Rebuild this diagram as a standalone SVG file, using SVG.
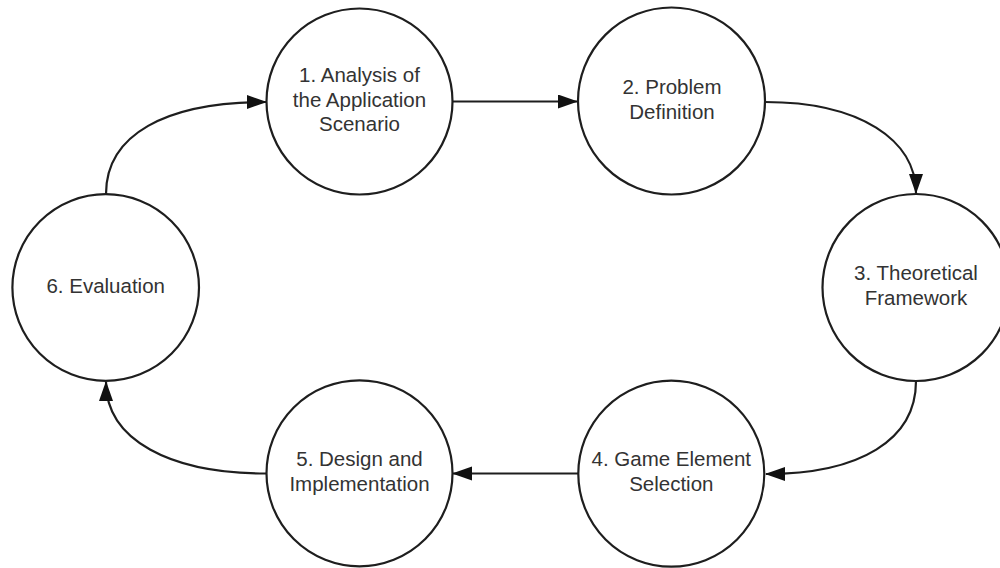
<svg xmlns="http://www.w3.org/2000/svg" width="1000" height="568" viewBox="0 0 1000 568">
  <style>
    .node circle { fill: #ffffff; stroke: #1e1e1e; stroke-width: 2.2; }
    .node text { font-family: "Liberation Sans", Arial, sans-serif; font-size: 20.5px; fill: #333333; text-anchor: middle; }
    .conn { fill: none; stroke: #1e1e1e; stroke-width: 2.2; marker-end: url(#arrow); }
  </style>
  <defs>
    <marker id="arrow" markerUnits="userSpaceOnUse" markerWidth="22" markerHeight="16" refX="19" refY="7" orient="auto">
      <path d="M0,0 L20,7 L0,14 z" fill="#111111"/>
    </marker>
  </defs>
  <rect x="0" y="0" width="1000" height="568" fill="#ffffff"/>

  <g id="connectors">
    <path class="conn" d="M452,101.5 L577,101.5"/>
    <path class="conn" d="M765,102 C860,102 916,140 916,193"/>
    <path class="conn" d="M916,381 C916,440 860,474 766,474"/>
    <path class="conn" d="M578,473.5 L453,473.5"/>
    <path class="conn" d="M266,473.5 C170,473.5 106,440 106,382"/>
    <path class="conn" d="M106,194 C106,135 165,102 266,102"/>
  </g>

  <g id="node1" class="node">
    <circle cx="359.5" cy="101.5" r="93"/>
    <text x="359.5" y="82">1. Analysis of</text>
    <text x="359.5" y="106.5">the Application</text>
    <text x="359.5" y="130.5">Scenario</text>
  </g>
  <g id="node2" class="node">
    <circle cx="671.5" cy="101" r="93.5"/>
    <text x="672" y="94">2. Problem</text>
    <text x="672" y="119">Definition</text>
  </g>
  <g id="node3" class="node">
    <circle cx="916" cy="287.5" r="93.5"/>
    <text x="916" y="280">3. Theoretical</text>
    <text x="916" y="305">Framework</text>
  </g>
  <g id="node4" class="node">
    <circle cx="671.3" cy="473.7" r="93"/>
    <text x="671.3" y="466">4. Game Element</text>
    <text x="671.3" y="490.5">Selection</text>
  </g>
  <g id="node5" class="node">
    <circle cx="359.5" cy="473.3" r="93"/>
    <text x="359.5" y="466">5. Design and</text>
    <text x="359.5" y="490.5">Implementation</text>
  </g>
  <g id="node6" class="node">
    <circle cx="105.7" cy="287.5" r="93.3"/>
    <text x="105.7" y="293">6. Evaluation</text>
  </g>
</svg>
